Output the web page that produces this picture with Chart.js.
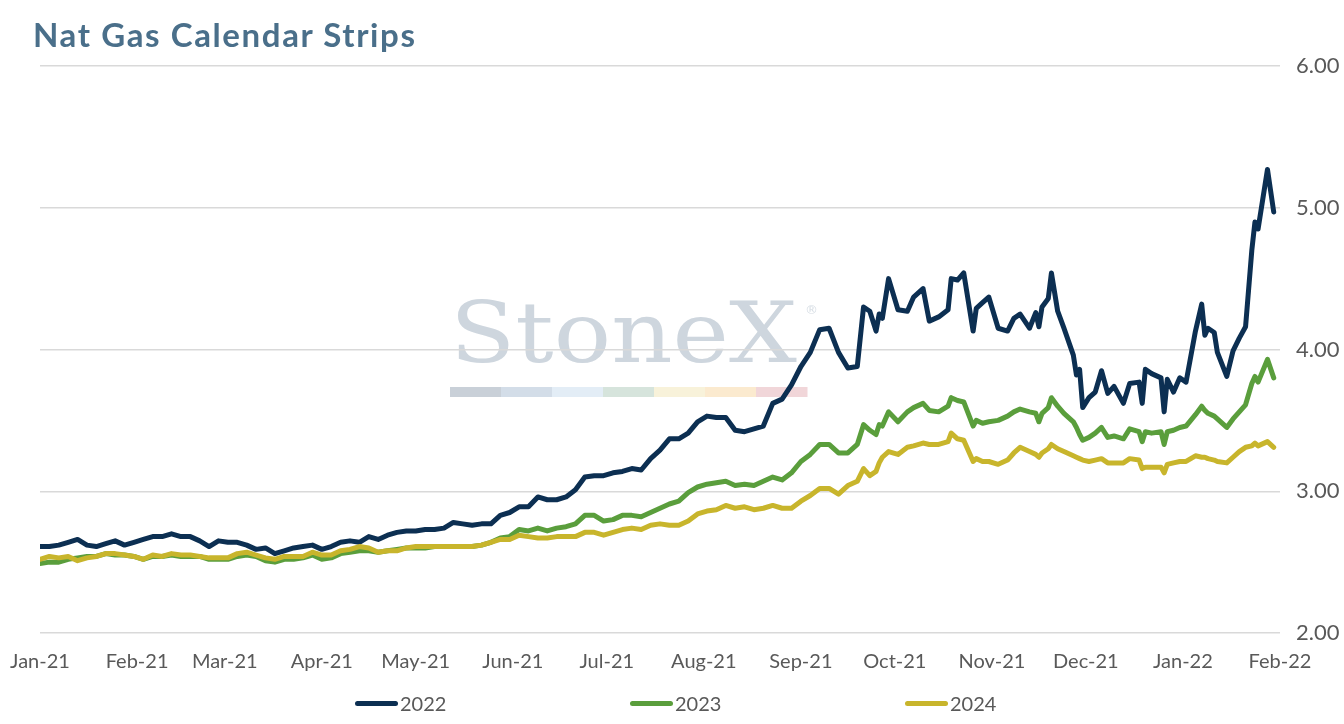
<!DOCTYPE html>
<html>

<head>
    <title>Nat Gas Calendar Strips</title>
    <script src="https://cdn.jsdelivr.net/npm/chart.js"></script>
    <style>
        html,
        body {
            margin: 0;
            padding: 0;
            background: #fff;
        }

        body {
            width: 1344px;
            height: 724px;
            position: relative;
            overflow: hidden;
            font-family: Lato, "Noto Sans", sans-serif;
        }

        #title {
            position: absolute;
            left: 33px;
            top: 14px;
            font-size: 33px;
            font-weight: 700;
            letter-spacing: 1.6px;
            color: #4a6f8a;
            white-space: nowrap;
        }

        #strips {
            position: absolute;
            left: 0;
            top: 0;
        }

        #legend {
            position: absolute;
            left: 355px;
            top: 691px;
            display: flex;
        }

        .item {
            width: 275px;
            display: flex;
            align-items: center;
            font-size: 20px;
            line-height: 24px;
            color: #595959;
        }

        .swatch {
            width: 43px;
            height: 5px;
            border-radius: 3px;
            margin-right: 2px;
        }
    </style>
</head>

<body>
    <canvas id="strips" width="1344" height="724"></canvas>
    <div id="title">Nat Gas Calendar Strips</div>
    <div id="legend"></div>

    <script>
        // days since 1 Jan 2021
        const dayOffsets = [
            0, 3, 6, 9, 12, 15, 18, 21, 24, 27, 30, 33, 36, 39, 42, 45, 48, 51, 54, 57,
            60, 63, 66, 69, 72, 75, 78, 81, 84, 87, 90, 93, 96, 99, 102, 105, 108, 111, 114, 117,
            120, 123, 126, 129, 132, 135, 138, 141, 144, 147, 150, 153, 156, 159, 162, 165, 168, 171, 174, 177,
            180, 183, 186, 189, 192, 195, 198, 201, 204, 207, 210, 213, 216, 219, 222, 225, 228, 231, 234, 237,
            240, 243, 246, 249, 252, 255,
            258, 261, 263, 265, 267, 268, 269, 271, 274, 277, 279, 282, 284, 287, 290,
            291, 293, 295, 298, 299, 301, 303, 306, 309, 311, 313, 316, 318, 319, 320,
            322, 323, 325, 327, 330, 331, 332, 333, 335, 337, 339, 341, 343, 346, 348,
            351, 352, 353, 355, 358, 359, 360, 362, 364, 366, 369, 371, 372, 373, 375,
            376, 379, 381, 383, 385, 387, 388, 389, 392, 394
        ];

        const strip2022 = [
            2.61, 2.61, 2.62, 2.64, 2.66, 2.62, 2.61, 2.63, 2.65, 2.62,
            2.64, 2.66, 2.68, 2.68, 2.70, 2.68, 2.68, 2.65, 2.61, 2.65,
            2.64, 2.64, 2.62, 2.59, 2.60, 2.56, 2.58, 2.60, 2.61, 2.62,
            2.59, 2.61, 2.64, 2.65, 2.64, 2.68, 2.66, 2.69, 2.71, 2.72,
            2.72, 2.73, 2.73, 2.74, 2.78, 2.77, 2.76, 2.77, 2.77, 2.83,
            2.85, 2.89, 2.89, 2.96, 2.94, 2.94, 2.96, 3.01, 3.10, 3.11,
            3.11, 3.13, 3.14, 3.16, 3.15, 3.23, 3.29, 3.37, 3.37, 3.41,
            3.49, 3.53, 3.52, 3.52, 3.43, 3.42, 3.44, 3.46, 3.62, 3.65,
            3.75, 3.88, 3.98, 4.14, 4.15, 3.98,
            3.87, 3.88, 4.30, 4.27, 4.13, 4.25, 4.22, 4.50, 4.28, 4.27, 4.37, 4.43, 4.20, 4.23, 4.28,
            4.50, 4.49, 4.54, 4.13, 4.29, 4.33, 4.37, 4.15, 4.13, 4.22, 4.25, 4.15, 4.26, 4.16, 4.30,
            4.36, 4.54, 4.27, 4.15, 3.96, 3.82, 3.86, 3.59, 3.66, 3.70, 3.85, 3.69, 3.74, 3.62, 3.76,
            3.77, 3.62, 3.86, 3.83, 3.80, 3.56, 3.79, 3.70, 3.80, 3.77, 4.13, 4.32, 4.10, 4.15, 4.12,
            3.98, 3.81, 3.99, 4.08, 4.16, 4.70, 4.90, 4.85, 5.27, 4.97
        ];

        const strip2023 = [
            2.49, 2.50, 2.50, 2.52, 2.53, 2.54, 2.54, 2.56, 2.55, 2.55,
            2.54, 2.52, 2.54, 2.54, 2.55, 2.54, 2.54, 2.54, 2.52, 2.52,
            2.52, 2.54, 2.55, 2.54, 2.51, 2.50, 2.52, 2.52, 2.53, 2.55,
            2.52, 2.53, 2.56, 2.57, 2.58, 2.58, 2.57, 2.58, 2.59, 2.60,
            2.60, 2.60, 2.61, 2.61, 2.61, 2.61, 2.61, 2.62, 2.64, 2.67,
            2.68, 2.73, 2.72, 2.74, 2.72, 2.74, 2.75, 2.77, 2.83, 2.83,
            2.79, 2.80, 2.83, 2.83, 2.82, 2.85, 2.88, 2.91, 2.93, 2.99,
            3.03, 3.05, 3.06, 3.07, 3.04, 3.05, 3.04, 3.07, 3.10, 3.08,
            3.13, 3.21, 3.26, 3.33, 3.33, 3.27,
            3.27, 3.33, 3.47, 3.43, 3.40, 3.47, 3.46, 3.56, 3.49, 3.56, 3.59, 3.62, 3.57, 3.56, 3.60,
            3.66, 3.64, 3.63, 3.46, 3.50, 3.48, 3.49, 3.50, 3.53, 3.56, 3.58, 3.56, 3.55, 3.49, 3.55,
            3.59, 3.66, 3.60, 3.55, 3.49, 3.45, 3.40, 3.36, 3.38, 3.41, 3.45, 3.38, 3.39, 3.37, 3.44,
            3.42, 3.35, 3.42, 3.41, 3.42, 3.33, 3.42, 3.43, 3.45, 3.46, 3.54, 3.60, 3.57, 3.55, 3.53,
            3.51, 3.45, 3.51, 3.56, 3.61, 3.76, 3.81, 3.77, 3.93, 3.80
        ];

        const strip2024 = [
            2.52, 2.54, 2.53, 2.54, 2.51, 2.53, 2.54, 2.56, 2.56, 2.55,
            2.54, 2.52, 2.55, 2.54, 2.56, 2.55, 2.55, 2.54, 2.53, 2.53,
            2.53, 2.56, 2.57, 2.55, 2.53, 2.52, 2.54, 2.54, 2.54, 2.57,
            2.55, 2.55, 2.58, 2.59, 2.61, 2.60, 2.57, 2.58, 2.58, 2.60,
            2.61, 2.61, 2.61, 2.61, 2.61, 2.61, 2.61, 2.62, 2.64, 2.66,
            2.66, 2.69, 2.68, 2.67, 2.67, 2.68, 2.68, 2.68, 2.71, 2.71,
            2.69, 2.71, 2.73, 2.74, 2.73, 2.76, 2.77, 2.76, 2.76, 2.79,
            2.84, 2.86, 2.87, 2.90, 2.88, 2.89, 2.87, 2.88, 2.90, 2.88,
            2.88, 2.93, 2.97, 3.02, 3.02, 2.98,
            3.04, 3.07, 3.16, 3.11, 3.14, 3.20, 3.24, 3.28, 3.26, 3.31, 3.32, 3.34, 3.33, 3.33, 3.35,
            3.41, 3.37, 3.36, 3.21, 3.23, 3.21, 3.21, 3.19, 3.22, 3.27, 3.31, 3.28, 3.26, 3.24, 3.27,
            3.30, 3.33, 3.30, 3.28, 3.25, 3.24, 3.23, 3.22, 3.21, 3.22, 3.23, 3.20, 3.20, 3.20, 3.23,
            3.22, 3.16, 3.17, 3.17, 3.17, 3.13, 3.19, 3.20, 3.21, 3.21, 3.25, 3.24, 3.24, 3.23, 3.22,
            3.21, 3.20, 3.24, 3.28, 3.31, 3.32, 3.34, 3.32, 3.35, 3.31
        ];

        const monthTicks = [0, 31, 59, 90, 120, 151, 181, 212, 243, 273, 304, 334, 365, 396];
        const monthLabels = ['Jan-21', 'Feb-21', 'Mar-21', 'Apr-21', 'May-21', 'Jun-21', 'Jul-21',
            'Aug-21', 'Sep-21', 'Oct-21', 'Nov-21', 'Dec-21', 'Jan-22', 'Feb-22'];
        const priceTicks = [2, 3, 4, 5, 6];

        const seriesNames = ['2022', '2023', '2024'];
        const seriesColors = ['#0c2f52', '#5a9e3c', '#c8b52c'];
        const seriesValues = [strip2022, strip2023, strip2024];

        // faded StoneX logo behind the lines
        const watermark = {
            id: 'watermark',
            beforeDraw(chart) {
                const { ctx, chartArea: a } = chart;
                const x0 = a.left + 410;
                ctx.save();
                ctx.fillStyle = '#ced6de';
                ctx.font = '85px "DejaVu Serif"';
                const w = ctx.measureText('StoneX').width;
                ctx.translate(x0, a.top + 296);
                ctx.scale(347 / w, 1);
                ctx.fillText('StoneX', 0, 0);
                ctx.restore();

                ctx.save();
                ctx.fillStyle = '#d6dde4';
                ctx.font = '13px "DejaVu Sans"';
                ctx.fillText('®', x0 + 355, a.top + 248);
                const bands = ['#c9d0d8', '#d3dde8', '#e3edf6', '#d6e4dc', '#f8f2da', '#fbeacf', '#f1d6d9'];
                const bw = 357 / bands.length;
                bands.forEach((c, i) => {
                    ctx.fillStyle = c;
                    ctx.fillRect(x0 + i * bw, a.top + 321, bw + 0.5, 10);
                });
                ctx.restore();
            }
        };

        const datasets = seriesNames.map((name, i) => ({
            label: name,
            data: dayOffsets.map((d, k) => ({ x: d, y: seriesValues[i][k] })),
            borderColor: seriesColors[i],
            borderWidth: 5,
            pointRadius: 0,
            tension: 0,
            fill: false,
            order: 3 - i
        }));

        new Chart(document.getElementById('strips').getContext('2d'), {
            type: 'line',
            data: { datasets },
            options: {
                responsive: false,
                animation: false,
                layout: { padding: { left: 40, top: 66, right: 0, bottom: 33 } },
                plugins: {
                    legend: { display: false },
                    title: { display: false },
                    tooltip: { enabled: false }
                },
                elements: {
                    line: { borderJoinStyle: 'round', borderCapStyle: 'round' }
                },
                scales: {
                    x: {
                        type: 'linear',
                        min: monthTicks[0],
                        max: monthTicks[monthTicks.length - 1],
                        grid: { display: false, drawTicks: false },
                        border: { display: false },
                        afterBuildTicks: s => { s.ticks = monthTicks.map(v => ({ value: v })); },
                        // let the end labels hang over the padding instead of shrinking the plot
                        afterFit: s => { s.paddingLeft = 0; s.paddingRight = 0; },
                        ticks: {
                            autoSkip: false,
                            maxRotation: 0,
                            padding: 17,
                            color: '#595959',
                            font: { family: 'Lato', size: 20 },
                            callback: (v, i) => monthLabels[i]
                        }
                    },
                    y: {
                        position: 'right',
                        min: priceTicks[0],
                        max: priceTicks[priceTicks.length - 1],
                        afterBuildTicks: s => { s.ticks = priceTicks.map(v => ({ value: v })); },
                        afterFit: s => { s.width = 64; },
                        grid: { color: '#d9d9d9', lineWidth: 1.5, drawTicks: false },
                        border: { display: false },
                        ticks: {
                            padding: 16,
                            color: '#595959',
                            font: { family: 'Lato', size: 22 },
                            callback: v => Number(v).toFixed(2)
                        }
                    }
                }
            },
            plugins: [watermark]
        });

        // legend under the plot
        const legend = document.getElementById('legend');
        seriesNames.forEach((name, i) => {
            const item = document.createElement('div');
            item.className = 'item';
            item.innerHTML = '<span class="swatch" style="background:' + seriesColors[i] + '"></span>' + name;
            legend.appendChild(item);
        });
    </script>
</body>

</html>
